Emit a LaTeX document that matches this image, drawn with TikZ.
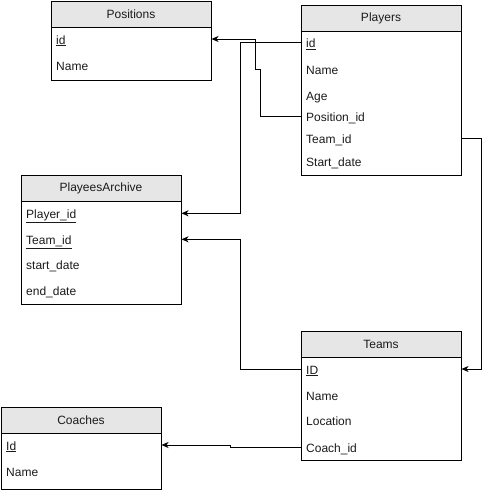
\documentclass[tikz,border=0pt]{standalone}
\usepackage{fontspec}
\setmainfont{Liberation Sans}
\usetikzlibrary{arrows.meta}
\definecolor{hdrgray}{HTML}{E6E6E6}
\definecolor{inkcol}{HTML}{1A1A1A}
\tikzset{
  tbl/.style={draw=black, line width=1pt, minimum width=160pt, anchor=north west, inner sep=0pt},
  hdr/.style={draw=black, fill=hdrgray, line width=1pt, minimum width=160pt, minimum height=26pt,
              anchor=north west, inner sep=0pt, text=inkcol, font=\fontsize{12}{14}\selectfont},
  row/.style={anchor=west, inner sep=0pt, text height=10pt, text depth=0pt, text=inkcol,
              font=\fontsize{12}{14}\selectfont},
  fk/.style={line width=1pt, draw=black, -{Stealth[length=7pt,width=6pt,inset=2pt]}}
}
\begin{document}
\begin{tikzpicture}[x=1pt,y=-1pt]
\useasboundingbox (0,0) rectangle (489,490);

% Positions
\node[tbl, minimum height=79.5pt] (positions) at (50.5,0.5) {};
\node[hdr] (positionsH) at (positions.north west) {Positions};
\node[row] (po-id) at (56,39) {\underline{id}};
\node[row] (po-name) at (56,65) {Name};

% Players
\node[tbl, minimum height=170pt] (players) at (300.5,4.5) {};
\node[hdr] (playersH) at (players.north west) {Players};
\node[row] (pl-id) at (306,42.7) {\underline{id}};
\node[row] (pl-name) at (306,69) {Name};
\node[row] (pl-age) at (306,95) {Age};
\node[row] (pl-pos) at (306,116) {Position\_id};
\node[row] (pl-team) at (306,138.3) {Team\_id};
\node[row] (pl-start) at (306,161.7) {Start\_date};

% PlayeesArchive
\node[tbl, minimum height=129pt] (archive) at (20.5,174.5) {};
\node[hdr] (archiveH) at (archive.north west) {PlayeesArchive};
\node[row] (pa-pid) at (26,213.3) {\underline{Player\_id}};
\node[row] (pa-tid) at (26,239.3) {\underline{Team\_id}};
\node[row] (pa-start) at (26,264.3) {start\_date};
\node[row] (pa-end) at (26,290.7) {end\_date};

% Teams
\node[tbl, minimum height=129.5pt] (teams) at (300.5,330.5) {};
\node[hdr] (teamsH) at (teams.north west) {Teams};
\node[row] (te-id) at (306,369) {\underline{ID}};
\node[row] (te-name) at (306,395) {Name};
\node[row] (te-loc) at (306,420.7) {Location};
\node[row] (te-coach) at (306,447) {Coach\_id};

% Coaches
\node[tbl, minimum height=82.3pt] (coaches) at (0.5,406.5) {};
\node[hdr] (coachesH) at (coaches.north west) {Coaches};
\node[row] (co-id) at (6,445) {\underline{Id}};
\node[row] (co-name) at (6,471.7) {Name};

% Connectors
\draw[fk] (players.west |- pl-id) -- ++(-60.5,0) |- (archive.east |- pa-pid);
\draw[fk] (players.west |- pl-pos) -- ++(-40.5,0) -- ++(0,-47) -- ++(-5,0) |- (positions.east |- po-id);
\draw[fk] (players.east |- pl-team) -- ++(19.5,0) |- (teams.east |- te-id);
\draw[fk] (teams.west |- te-id) -- ++(-60,0) |- (archive.east |- pa-tid);
\draw[fk] (teams.west |- te-coach) -- ++(-70.5,0) |- (coaches.east |- co-id);
\end{tikzpicture}
\end{document}
